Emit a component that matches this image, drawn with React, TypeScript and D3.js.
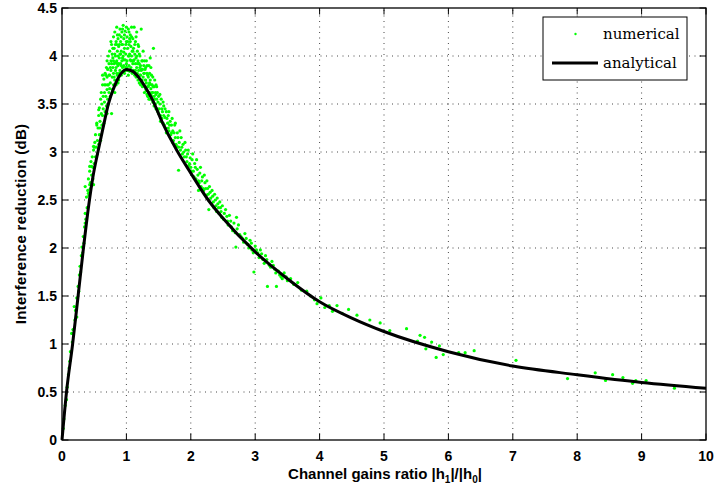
import React from 'react';
import * as d3 from 'd3';

const xTicks = [0, 1, 2, 3, 4, 5, 6, 7, 8, 9, 10];
const yTicks = [0, 0.5, 1, 1.5, 2, 2.5, 3, 3.5, 4, 4.5];
const yTickLabels = ['0', '0.5', '1', '1.5', '2', '2.5', '3', '3.5', '4', '4.5'];

const analyticalX = [0, 0.07, 0.165, 0.25, 0.33, 0.41, 0.48, 0.57, 0.65, 0.72, 0.8, 0.9, 1.0, 1.1, 1.2, 1.3, 1.4, 1.55, 1.78, 2.0, 2.27, 2.5, 3.0, 3.5, 4.0, 4.5, 5.0, 6.0, 7.0, 8.0, 9.0, 10.0];
const analyticalY = [0, 0.5, 1.0, 1.5, 1.98, 2.42, 2.74, 3.04, 3.29, 3.5, 3.66, 3.8, 3.86, 3.84, 3.77, 3.67, 3.55, 3.32, 3.02, 2.78, 2.5, 2.31, 1.96, 1.68, 1.44, 1.27, 1.13, 0.92, 0.77, 0.68, 0.6, 0.54];

const numerical: [number, number][] = [
  [0.02,0.12],[0.03,0.22],[0.05,0.36],[0.07,0.42],[0.08,0.55],[0.10,0.68],[0.11,0.75],[0.12,0.82],[0.13,0.92],[0.15,1.11],[0.16,1.02],[0.17,1.15],[0.19,1.39],[0.20,1.25],[0.21,1.35],[0.23,1.28],[0.23,1.48],[0.25,1.60],[0.26,1.55],[0.27,1.72],[0.28,1.81],[0.29,1.75],[0.30,1.92],[0.31,2.01],[0.32,1.95],[0.33,2.12],[0.34,2.05],[0.35,2.22],[0.36,2.26],[0.36,2.36],[0.37,2.30],[0.38,2.53],[0.39,2.42],[0.41,2.57],[0.43,2.66],[0.46,2.67],[0.49,2.66],[0.36,2.64],[0.43,2.85],[0.49,3.06],
  [0.40,2.60],[0.41,2.72],[0.42,2.55],[0.43,2.80],[0.44,2.68],[0.45,2.90],[0.46,2.76],[0.47,2.95],[0.48,2.84],[0.49,3.02],[0.50,2.88],[0.44,2.62],[0.46,2.85],[0.48,2.72],[0.50,3.05],
  [0.51,3.10],[0.52,2.95],[0.52,3.18],[0.53,3.05],[0.54,3.28],[0.55,3.12],[0.55,2.98],[0.56,3.25],[0.57,3.38],[0.57,3.08],[0.58,3.18],[0.58,3.46],[0.59,3.32],[0.60,3.12],[0.60,3.55],[0.54,3.30],[0.57,3.44],[0.59,3.25],
  [0.61,3.40],[0.61,3.62],[0.62,3.28],[0.62,3.50],[0.63,3.70],[0.63,3.38],[0.64,3.58],[0.64,3.45],[0.65,3.76],[0.65,3.30],[0.66,3.62],[0.66,3.52],[0.67,3.82],[0.67,3.42],[0.68,3.70],[0.68,3.58],[0.69,3.48],[0.69,3.88],[0.70,3.65],[0.70,3.78],[0.63,3.80],[0.70,3.95],[0.70,3.40],
  [0.71,3.55],[0.71,3.86],[0.72,3.70],[0.72,4.00],[0.73,3.62],[0.73,3.92],[0.74,3.80],[0.74,4.05],[0.75,3.58],[0.75,3.72],[0.76,3.95],[0.76,3.85],[0.77,3.40],[0.77,4.12],[0.78,3.65],[0.78,3.78],[0.79,3.98],[0.79,3.88],[0.80,3.70],[0.80,4.20],[0.72,3.50],[0.76,4.15],[0.78,4.02],[0.80,3.82],[0.74,3.66],
  [0.81,3.92],[0.81,4.08],[0.82,3.75],[0.82,4.25],[0.83,3.85],[0.83,4.00],[0.84,3.70],[0.84,4.15],[0.85,3.95],[0.85,4.30],[0.86,3.80],[0.86,4.05],[0.87,3.90],[0.87,4.18],[0.88,3.75],[0.88,4.10],[0.89,3.98],[0.89,4.22],[0.90,3.85],[0.90,4.02],[0.82,3.62],[0.84,3.88],[0.86,4.22],[0.88,3.92],[0.90,4.28],[0.83,4.12],[0.87,3.72],
  [0.91,3.92],[0.91,4.15],[0.92,3.80],[0.92,4.05],[0.93,4.25],[0.93,3.95],[0.94,3.88],[0.94,4.12],[0.95,4.00],[0.95,4.32],[0.96,3.90],[0.96,4.18],[0.97,3.82],[0.97,4.08],[0.98,3.96],[0.98,4.26],[0.99,3.88],[0.99,4.02],[1.00,4.15],[1.00,3.92],[0.92,4.20],[0.94,3.98],[0.96,4.04],[0.98,3.85],[1.00,4.30],[0.95,3.84],
  [1.01,3.95],[1.01,4.20],[1.02,3.85],[1.02,4.08],[1.03,4.00],[1.03,4.28],[1.04,3.90],[1.04,4.12],[1.05,3.84],[1.05,4.02],[1.06,3.96],[1.06,4.22],[1.07,3.88],[1.07,4.10],[1.08,4.00],[1.08,4.30],[1.09,3.82],[1.09,4.05],[1.10,3.92],[1.10,4.18],[1.03,3.80],[1.06,4.15],[1.09,3.95],[1.04,4.25],
  [1.11,3.85],[1.11,4.08],[1.12,3.96],[1.12,4.30],[1.13,3.80],[1.13,4.02],[1.14,3.92],[1.14,4.15],[1.15,3.78],[1.15,3.98],[1.16,3.88],[1.16,4.25],[1.17,3.82],[1.17,4.05],[1.18,3.75],[1.18,3.95],[1.19,3.85],[1.19,4.10],[1.20,3.72],[1.20,3.92],
  [0.80,3.95],[0.81,3.78],[0.83,3.93],[0.85,3.82],[0.85,4.12],[0.87,4.00],[0.89,3.82],[0.89,4.12],[0.91,4.02],[0.92,3.90],[0.93,4.12],[0.94,4.28],[0.96,3.96],[0.97,4.22],[0.99,4.12],[1.01,3.88],[1.02,4.15],[1.04,4.00],[1.05,4.18],[1.07,3.95],[1.08,4.20],[1.10,4.05],[1.11,3.95],[1.13,4.12],[1.14,3.85],[1.16,4.00],[1.18,4.12],[1.19,3.92],[0.75,3.88],[0.73,3.80],[0.71,3.70],[0.68,3.80],[0.66,3.70],[0.77,3.92],[0.79,4.08],[0.82,4.02],[0.86,3.92],[1.15,4.20],[1.20,4.02],[1.17,3.92],
  [1.21,3.80],[1.21,4.00],[1.22,3.70],[1.22,3.90],[1.23,3.85],[1.23,4.28],[1.24,3.75],[1.24,3.95],[1.25,3.68],[1.25,3.86],[1.26,3.78],[1.26,4.05],[1.27,3.70],[1.27,3.90],[1.28,3.62],[1.28,3.82],[1.29,3.75],[1.30,3.66],[1.30,3.88],
  [1.21,3.88],[1.22,3.80],[1.23,3.72],[1.24,3.86],[1.25,3.95],[1.26,3.70],[1.27,3.82],[1.28,3.95],[1.29,3.68],[1.29,3.86],[1.30,3.75],[1.31,3.64],[1.32,3.90],[1.33,3.80],[1.33,3.58],[1.34,3.68],[1.35,3.55],[1.36,3.82],[1.36,3.72],[1.37,3.55],[1.38,3.88],[1.38,3.60],[1.39,3.70],
  [1.31,3.72],[1.31,3.95],[1.32,3.60],[1.32,3.82],[1.33,3.68],[1.34,3.78],[1.34,3.58],[1.35,3.70],[1.35,3.90],[1.36,3.62],[1.37,3.75],[1.37,3.98],[1.38,3.66],[1.39,3.58],[1.39,3.80],[1.40,3.70],[1.40,3.62],
  [1.41,3.52],[1.42,4.08],[1.42,3.68],[1.43,3.58],[1.44,3.75],[1.45,3.50],[1.45,3.62],[1.46,3.70],[1.47,3.55],[1.48,3.45],[1.48,3.62],[1.49,3.52],[1.50,3.58],[1.50,3.40],
  [1.41,3.62],[1.41,3.78],[1.43,3.68],[1.43,3.48],[1.44,3.55],[1.46,3.45],[1.46,3.60],[1.47,3.68],[1.49,3.42],[1.51,3.45],[1.52,3.60],[1.53,3.32],[1.55,3.45],[1.55,3.35],[1.57,3.52],[1.58,3.38],[1.59,3.28],[1.60,3.45],
  [1.52,3.50],[1.53,3.38],[1.54,3.55],[1.56,3.42],[1.57,3.30],[1.58,3.48],[1.60,3.36],[1.61,3.25],[1.62,3.42],[1.64,3.30],[1.65,3.38],[1.66,3.22],[1.68,3.32],[1.69,3.18],[1.70,3.28],
  [1.62,3.20],[1.63,3.35],[1.65,3.25],[1.66,3.42],[1.67,3.28],[1.70,3.20],[1.71,3.35],[1.72,3.10],[1.74,3.20],[1.76,3.30],[1.77,3.08],[1.80,3.15],[1.81,3.05],[1.83,3.22],[1.86,3.05],[1.89,3.00],[1.91,3.10],[1.93,2.95],[1.96,3.02],[1.98,2.88],
  [1.72,3.22],[1.73,3.12],[1.75,3.28],[1.76,3.15],[1.78,3.06],[1.79,3.20],[1.81,2.81],[1.82,3.10],[1.84,3.02],[1.85,3.15],[1.87,2.98],[1.88,3.08],[1.90,2.95],[1.92,3.02],[1.94,2.90],[1.95,2.98],[1.97,2.86],[1.99,2.94],[2.00,2.84],
  [2.02,2.92],[2.04,2.80],[2.06,2.88],[2.08,2.72],[2.10,2.82],[2.12,2.70],[2.14,2.78],[2.16,2.64],[2.18,2.74],[2.20,2.60],[2.22,2.68],[2.24,2.55],[2.26,2.62],[2.28,2.50],[2.30,2.58],[2.32,2.46],[2.34,2.54],[2.36,2.42],[2.38,2.50],[2.40,2.38],[2.42,2.46],[2.44,2.36],[2.46,2.42],[2.48,2.32],[2.12,2.60],[2.28,2.40],
  [2.01,2.80],[2.03,2.98],[2.05,2.74],[2.07,2.84],[2.09,2.92],[2.11,2.76],[2.13,2.68],[2.15,2.84],[2.17,2.70],[2.19,2.62],[2.21,2.76],[2.23,2.62],[2.25,2.70],[2.27,2.56],[2.29,2.64],[2.31,2.52],[2.33,2.60],[2.35,2.48],[2.37,2.56],[2.39,2.44],[2.41,2.52],[2.43,2.42],[2.45,2.48],[2.47,2.38],[2.49,2.44],
  [2.52,2.36],[2.56,2.33],[2.58,2.24],[2.62,2.28],[2.65,2.18],[2.70,2.01],[2.71,2.32],[2.72,2.20],[2.76,2.14],[2.80,2.10],[2.84,2.15],[2.88,2.04],[2.92,2.08],[2.95,1.98],[2.98,1.75],[3.00,2.02],
  [2.51,2.30],[2.54,2.40],[2.57,2.28],[2.60,2.34],[2.63,2.22],[2.67,2.26],[2.69,2.16],[2.74,2.24],[2.78,2.12],[2.82,2.06],[2.86,2.10],[2.90,2.00],[2.94,2.05],[2.97,1.95],
  [3.04,1.95],[3.08,1.98],[3.12,1.88],[3.16,1.92],[3.19,1.60],[3.22,1.82],[3.26,1.86],[3.30,1.78],[3.33,1.60],[3.36,1.76],[3.40,1.70],[3.45,1.74],[3.50,1.66],
  [3.02,1.98],[3.06,1.90],[3.10,1.94],[3.14,1.84],[3.18,1.88],[3.24,1.80],[3.28,1.82],[3.32,1.74],[3.38,1.72],[3.42,1.68],[3.48,1.70],
  [3.55,1.68],[3.60,1.62],[3.66,1.64],[3.72,1.56],[3.80,1.55],[3.86,1.50],[3.92,1.46],[3.96,1.42],[4.02,1.48],[4.08,1.38],[4.15,1.40],[4.20,1.34],[4.27,1.40],[4.35,1.32],[4.45,1.36],[4.58,1.30],
  [4.78,1.25],[4.94,1.22],[5.09,1.14],[5.35,1.16],[5.52,1.03],[5.56,1.09],[5.63,1.07],[5.65,0.95],[5.74,1.02],[5.81,0.86],[5.86,0.98],[5.92,0.89],[6.16,0.91],[6.26,0.91],[6.40,0.93],[7.05,0.83],[7.85,0.64],[8.28,0.70],[8.44,0.62],[8.55,0.68],[8.71,0.65],[8.86,0.59],[8.91,0.62],[9.07,0.62],[9.51,0.54],
];

const legendLabels = ['numerical', 'analytical'];

export default function App() {
  const W = 716, H = 493;
  const left = 62, right = 706, top = 8, bottom = 440;
  const x = d3.scaleLinear().domain([0, 10]).range([left, right]);
  const y = d3.scaleLinear().domain([0, 4.5]).range([bottom, top]);
  const line = d3.line<number>()
    .x((_, i) => x(analyticalX[i]))
    .y((d) => y(d))
    .curve(d3.curveMonotoneX);
  const tickLen = 6.5;
  const font = 'Liberation Sans, Arial, sans-serif';
  const serif = 'DejaVu Serif, serif';

  return (
    <svg width={W} height={H} style={{ position: 'absolute', left: 0, top: 0, background: '#fff' }}>
      <rect x={0} y={0} width={W} height={H} fill="#fff" />
      <g stroke="#333" strokeWidth={0.9} strokeDasharray="1 4.5">
        {xTicks.slice(1, -1).map((t) => (
          <line key={'gx' + t} x1={x(t)} x2={x(t)} y1={bottom} y2={top} />
        ))}
        {yTicks.slice(1, -1).map((t) => (
          <line key={'gy' + t} x1={left} x2={right} y1={y(t)} y2={y(t)} />
        ))}
      </g>
      <g fill="#00ff00">
        {numerical.map((p, i) => (
          <circle key={i} cx={x(p[0])} cy={y(p[1])} r={1.6} />
        ))}
      </g>
      <path d={line(analyticalY) || ''} fill="none" stroke="#000" strokeWidth={3} strokeLinejoin="round" />
      <g stroke="#000" strokeWidth={1}>
        {xTicks.map((t) => (
          <g key={'tx' + t}>
            <line x1={x(t)} x2={x(t)} y1={bottom} y2={bottom - tickLen} />
            <line x1={x(t)} x2={x(t)} y1={top} y2={top + tickLen} />
          </g>
        ))}
        {yTicks.map((t) => (
          <g key={'ty' + t}>
            <line x1={left} x2={left + tickLen} y1={y(t)} y2={y(t)} />
            <line x1={right} x2={right - tickLen} y1={y(t)} y2={y(t)} />
          </g>
        ))}
      </g>
      <rect x={left} y={top} width={right - left} height={bottom - top} fill="none" stroke="#000" strokeWidth={1.3} />
      <g fontFamily={font} fontWeight="bold" fontSize={14} fill="#000">
        {xTicks.map((t) => (
          <text key={'lx' + t} x={x(t)} y={461} textAnchor="middle">{t}</text>
        ))}
        {yTicks.map((t, i) => (
          <text key={'ly' + t} x={57} y={y(t)} dy="0.36em" textAnchor="end">{yTickLabels[i]}</text>
        ))}
      </g>
      <text x={(left + right) / 2 + 1} y={479} textAnchor="middle" fontFamily={font} fontWeight="bold" fontSize={15}>
        Channel gains ratio |h<tspan fontSize={10} dy={4}>1</tspan><tspan dy={-4}>|/|h</tspan><tspan fontSize={10} dy={4}>0</tspan><tspan dy={-4}>|</tspan>
      </text>
      <text transform={`translate(26,${(top + bottom) / 2}) rotate(-90)`} textAnchor="middle" fontFamily={font} fontWeight="bold" fontSize={15} letterSpacing={0.3}>
        Interference reduction (dB)
      </text>
      <g>
        <rect x={543} y={17} width={144} height={63} fill="#fff" stroke="#000" strokeWidth={1} />
        <circle cx={575.5} cy={34} r={1.2} fill="#00ff00" />
        <line x1={552} x2={598} y1={63} y2={63} stroke="#000" strokeWidth={3} />
        <text x={603} y={38.5} fontFamily={serif} fontSize={15} fill="#000">{legendLabels[0]}</text>
        <text x={603} y={67.5} fontFamily={serif} fontSize={15} fill="#000">{legendLabels[1]}</text>
      </g>
    </svg>
  );
}
